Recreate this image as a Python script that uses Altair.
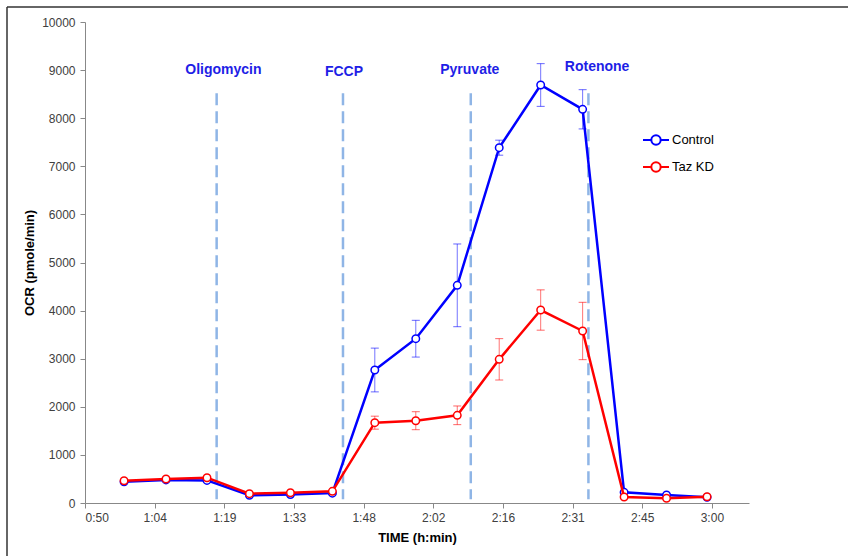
import altair as alt
import pandas as pd

# Measurement times (minutes after start) and OCR readings with their SEM
time_min = [58.1, 66.8, 75.3, 84.1, 92.6, 101.3, 110.1, 118.6, 127.2, 135.9,
            144.5, 153.2, 161.8, 170.6, 179.0]
control_ocr = [440, 480, 470, 160, 175, 205, 2765, 3416, 4525, 7387,
               8690, 8185, 222, 166, 120]
control_sem = [20, 20, 25, 15, 15, 20, 455, 382, 860, 156,
               444, 408, 25, 20, 15]
taz_ocr = [463, 499, 526, 194, 214, 243, 1670, 1711, 1823, 2987,
           4012, 3576, 125, 97, 131]
taz_sem = [20, 20, 25, 15, 15, 20, 135, 187, 194, 430,
           419, 596, 20, 15, 15]
series_names = ["Control", "Taz KD"]
series_colors = ["#0000ff", "#ff0000"]

# Injection ports
inj_names = ["Oligomycin", "FCCP", "Pyruvate", "Rotenone"]
inj_time = [77.3, 103.5, 130.0, 154.4]
inj_label_time = [78.7, 103.7, 129.8, 156.2]
inj_label_ocr = [9000, 8960, 9000, 9060]

# Axis ticks
tick_minutes = [50, 64.44, 78.89, 93.33, 107.78, 122.22, 136.67, 151.11, 165.56, 180]
tick_labels = ["0:50", "1:04", "1:19", "1:33", "1:48", "2:02", "2:16", "2:31", "2:45", "3:00"]

rows = []
for name, vals, sems in [("Control", control_ocr, control_sem), ("Taz KD", taz_ocr, taz_sem)]:
    for t, v, s in zip(time_min, vals, sems):
        rows.append({"time": t, "series": name, "ocr": v, "sem": s})
df = pd.DataFrame(rows)
inj = pd.DataFrame({"name": inj_names, "time": inj_time,
                    "ltime": inj_label_time, "locr": inj_label_ocr})

FONT = "Liberation Sans"
label_expr = "[{}][indexof([{}], datum.value)]".format(
    ",".join("'%s'" % s for s in tick_labels),
    ",".join(str(v) for v in tick_minutes))

x_scale = alt.Scale(domain=[50, 187.7], nice=False, zero=False)
y_scale = alt.Scale(domain=[0, 10000], nice=False)
color_scale = alt.Scale(domain=series_names, range=series_colors)

# Legend symbol: short line with an open circle in the middle
legend_symbol = ("M-1,0L-0.36,0M0.36,0L1,0M0.36,0"
                 "A0.36,0.36 0 1 1 -0.36,0A0.36,0.36 0 1 1 0.36,0Z")
legend = alt.Legend(
    title=None, orient="none", legendX=557, legendY=104,
    symbolType=legend_symbol, symbolSize=676, symbolStrokeWidth=2,
    symbolFillColor="white", symbolOpacity=1,
    labelFont=FONT, labelFontSize=13, labelColor="black",
    labelOffset=2, rowPadding=4, padding=0)
stroke_enc = alt.Stroke("series:N", scale=color_scale, legend=legend)

x_enc = alt.X("time:Q", scale=x_scale, title="TIME (h:min)",
              axis=alt.Axis(values=tick_minutes, labelExpr=label_expr, grid=False,
                            tickSize=5, labelPadding=4, titlePadding=8,
                            domainColor="#888888", tickColor="#888888",
                            labelColor="#404040", labelFont=FONT, labelFontSize=12,
                            titleFont=FONT, titleFontSize=13, titleFontWeight="bold",
                            titleColor="black"))
y_axis = alt.Axis(values=list(range(0, 10001, 1000)), format="d", grid=False,
                  tickSize=5, labelPadding=5, titlePadding=5,
                  domainColor="#888888", tickColor="#888888",
                  labelColor="#404040", labelFont=FONT, labelFontSize=12,
                  titleFont=FONT, titleFontSize=13, titleFontWeight="bold",
                  titleColor="black")

# Frame lines along the top and left of the figure
frame_src = alt.Chart(pd.DataFrame({"k": [0]}))
frame_top = frame_src.mark_rule(color="#333333", strokeWidth=1.5).encode(
    x=alt.value(-78), x2=alt.value(780), y=alt.value(-15))
frame_left = frame_src.mark_rule(color="#333333", strokeWidth=1.5).encode(
    x=alt.value(-78), y=alt.value(-15), y2=alt.value(560))

# Dashed injection markers and their labels
inj_rules = alt.Chart(inj).mark_rule(
    color="#8fb5e6", strokeWidth=2.5, strokeDash=[12, 6]
).encode(x=alt.X("time:Q", scale=x_scale), y=alt.datum(8520), y2=alt.datum(80))

inj_text = alt.Chart(inj).mark_text(
    font=FONT, fontSize=14, fontWeight="bold", color="#1e1ee6",
    align="center", baseline="middle"
).encode(x=alt.X("ltime:Q", scale=x_scale),
         y=alt.Y("locr:Q", scale=y_scale), text="name:N")

base = alt.Chart(df).transform_calculate(
    lo="datum.ocr - datum.sem", hi="datum.ocr + datum.sem")

# Error bars: vertical whisker plus short caps
err_rule = base.mark_rule(strokeWidth=1, opacity=0.55).encode(
    x=alt.X("time:Q", scale=x_scale), y=alt.Y("lo:Q", scale=y_scale), y2="hi:Q",
    stroke=stroke_enc)
err_top = base.mark_rule(strokeWidth=1, opacity=0.6, xOffset=-4, x2Offset=4).encode(
    x=alt.X("time:Q", scale=x_scale), x2="time:Q",
    y=alt.Y("hi:Q", scale=y_scale), stroke=stroke_enc)
err_bot = base.mark_rule(strokeWidth=1, opacity=0.6, xOffset=-4, x2Offset=4).encode(
    x=alt.X("time:Q", scale=x_scale), x2="time:Q",
    y=alt.Y("lo:Q", scale=y_scale), stroke=stroke_enc)

layers = [frame_top, frame_left, inj_rules, inj_text, err_rule, err_top, err_bot]
for name in series_names:
    sub = alt.Chart(df).transform_filter(alt.datum.series == name)
    line = sub.mark_line(strokeWidth=2.5).encode(
        x=x_enc,
        y=alt.Y("ocr:Q", scale=y_scale, title="OCR (pmole/min)", axis=y_axis),
        stroke=stroke_enc)
    pts = sub.mark_point(shape="circle", size=56, filled=True, fill="white",
                         opacity=1, strokeWidth=1.5).encode(
        x=alt.X("time:Q", scale=x_scale), y=alt.Y("ocr:Q", scale=y_scale),
        stroke=stroke_enc)
    layers += [line, pts]

chart = alt.layer(*layers).properties(
    width=664, height=481,
    padding={"left": 85, "top": 22, "right": 99, "bottom": 53},
    autosize=alt.AutoSizeParams(type="none"),
    background="white",
).configure_view(stroke=None)

chart.save("out.html", embed_options={"renderer": "svg", "actions": False})
